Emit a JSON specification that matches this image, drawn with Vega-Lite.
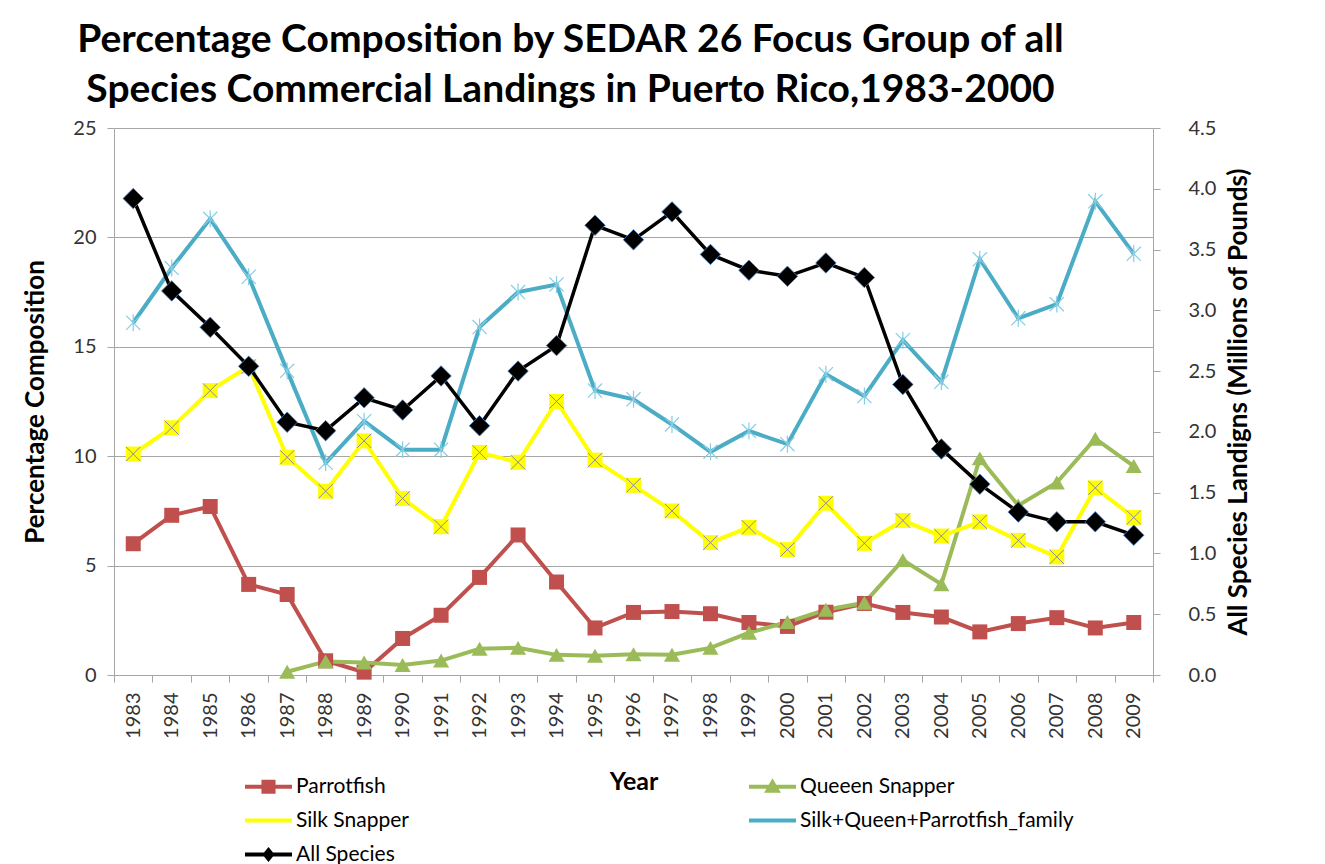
{
  "$schema": "https://vega.github.io/schema/vega-lite/v6.json",
  "autosize": {"type": "none"},
  "width": 1039,
  "height": 547,
  "padding": {"left": 114, "top": 128, "right": 172, "bottom": 189},
  "background": "white",
  "title": {
    "text": ["Percentage Composition by SEDAR 26 Focus Group of all", "Species Commercial Landings in Puerto Rico,1983-2000"],
    "font": "Lato", "fontSize": 39, "fontWeight": "bold", "color": "black",
    "anchor": "middle", "frame": "group", "dx": -63, "offset": 8, "lineHeight": 50
  },
  "config": {
    "view": {"stroke": null},
    "axis": {"labelFont": "Lato", "titleFont": "Lato", "labelColor": "#333333", "titleColor": "black", "domainColor": "#a6a6a6", "tickColor": "#a6a6a6", "gridColor": "#a6a6a6"}
  },
  "datasets": {
    "d": [
      {"year": "1983", "series": "Parrotfish", "value": 6.0},
      {"year": "1984", "series": "Parrotfish", "value": 7.3},
      {"year": "1985", "series": "Parrotfish", "value": 7.7},
      {"year": "1986", "series": "Parrotfish", "value": 4.14},
      {"year": "1987", "series": "Parrotfish", "value": 3.68},
      {"year": "1988", "series": "Parrotfish", "value": 0.65},
      {"year": "1989", "series": "Parrotfish", "value": 0.13},
      {"year": "1990", "series": "Parrotfish", "value": 1.67},
      {"year": "1991", "series": "Parrotfish", "value": 2.73},
      {"year": "1992", "series": "Parrotfish", "value": 4.46},
      {"year": "1993", "series": "Parrotfish", "value": 6.4},
      {"year": "1994", "series": "Parrotfish", "value": 4.25},
      {"year": "1995", "series": "Parrotfish", "value": 2.15},
      {"year": "1996", "series": "Parrotfish", "value": 2.86},
      {"year": "1997", "series": "Parrotfish", "value": 2.9},
      {"year": "1998", "series": "Parrotfish", "value": 2.8},
      {"year": "1999", "series": "Parrotfish", "value": 2.4},
      {"year": "2000", "series": "Parrotfish", "value": 2.22},
      {"year": "2001", "series": "Parrotfish", "value": 2.87},
      {"year": "2002", "series": "Parrotfish", "value": 3.27},
      {"year": "2003", "series": "Parrotfish", "value": 2.86},
      {"year": "2004", "series": "Parrotfish", "value": 2.65},
      {"year": "2005", "series": "Parrotfish", "value": 1.97},
      {"year": "2006", "series": "Parrotfish", "value": 2.35},
      {"year": "2007", "series": "Parrotfish", "value": 2.62},
      {"year": "2008", "series": "Parrotfish", "value": 2.15},
      {"year": "2009", "series": "Parrotfish", "value": 2.4},
      {"year": "1987", "series": "Queeen Snapper", "value": 0.15},
      {"year": "1988", "series": "Queeen Snapper", "value": 0.62},
      {"year": "1989", "series": "Queeen Snapper", "value": 0.57},
      {"year": "1990", "series": "Queeen Snapper", "value": 0.46},
      {"year": "1991", "series": "Queeen Snapper", "value": 0.66},
      {"year": "1992", "series": "Queeen Snapper", "value": 1.2},
      {"year": "1993", "series": "Queeen Snapper", "value": 1.24},
      {"year": "1994", "series": "Queeen Snapper", "value": 0.92},
      {"year": "1995", "series": "Queeen Snapper", "value": 0.88},
      {"year": "1996", "series": "Queeen Snapper", "value": 0.95},
      {"year": "1997", "series": "Queeen Snapper", "value": 0.93},
      {"year": "1998", "series": "Queeen Snapper", "value": 1.24},
      {"year": "1999", "series": "Queeen Snapper", "value": 1.93},
      {"year": "2000", "series": "Queeen Snapper", "value": 2.42},
      {"year": "2001", "series": "Queeen Snapper", "value": 2.98},
      {"year": "2002", "series": "Queeen Snapper", "value": 3.3},
      {"year": "2003", "series": "Queeen Snapper", "value": 5.25},
      {"year": "2004", "series": "Queeen Snapper", "value": 4.15},
      {"year": "2005", "series": "Queeen Snapper", "value": 9.9},
      {"year": "2006", "series": "Queeen Snapper", "value": 7.75},
      {"year": "2007", "series": "Queeen Snapper", "value": 8.8},
      {"year": "2008", "series": "Queeen Snapper", "value": 10.8},
      {"year": "2009", "series": "Queeen Snapper", "value": 9.55},
      {"year": "1983", "series": "Silk Snapper", "value": 10.1},
      {"year": "1984", "series": "Silk Snapper", "value": 11.3},
      {"year": "1985", "series": "Silk Snapper", "value": 13.0},
      {"year": "1986", "series": "Silk Snapper", "value": 14.1},
      {"year": "1987", "series": "Silk Snapper", "value": 9.95},
      {"year": "1988", "series": "Silk Snapper", "value": 8.4},
      {"year": "1989", "series": "Silk Snapper", "value": 10.7},
      {"year": "1990", "series": "Silk Snapper", "value": 8.07},
      {"year": "1991", "series": "Silk Snapper", "value": 6.78},
      {"year": "1992", "series": "Silk Snapper", "value": 10.17},
      {"year": "1993", "series": "Silk Snapper", "value": 9.72},
      {"year": "1994", "series": "Silk Snapper", "value": 12.5},
      {"year": "1995", "series": "Silk Snapper", "value": 9.82},
      {"year": "1996", "series": "Silk Snapper", "value": 8.67},
      {"year": "1997", "series": "Silk Snapper", "value": 7.5},
      {"year": "1998", "series": "Silk Snapper", "value": 6.05},
      {"year": "1999", "series": "Silk Snapper", "value": 6.75},
      {"year": "2000", "series": "Silk Snapper", "value": 5.73},
      {"year": "2001", "series": "Silk Snapper", "value": 7.85},
      {"year": "2002", "series": "Silk Snapper", "value": 6.02},
      {"year": "2003", "series": "Silk Snapper", "value": 7.06},
      {"year": "2004", "series": "Silk Snapper", "value": 6.35},
      {"year": "2005", "series": "Silk Snapper", "value": 7.0},
      {"year": "2006", "series": "Silk Snapper", "value": 6.15},
      {"year": "2007", "series": "Silk Snapper", "value": 5.4},
      {"year": "2008", "series": "Silk Snapper", "value": 8.55},
      {"year": "2009", "series": "Silk Snapper", "value": 7.2},
      {"year": "1983", "series": "Silk+Queen+Parrotfish_family", "value": 16.1},
      {"year": "1984", "series": "Silk+Queen+Parrotfish_family", "value": 18.6},
      {"year": "1985", "series": "Silk+Queen+Parrotfish_family", "value": 20.85},
      {"year": "1986", "series": "Silk+Queen+Parrotfish_family", "value": 18.2},
      {"year": "1987", "series": "Silk+Queen+Parrotfish_family", "value": 13.9},
      {"year": "1988", "series": "Silk+Queen+Parrotfish_family", "value": 9.7},
      {"year": "1989", "series": "Silk+Queen+Parrotfish_family", "value": 11.6},
      {"year": "1990", "series": "Silk+Queen+Parrotfish_family", "value": 10.3},
      {"year": "1991", "series": "Silk+Queen+Parrotfish_family", "value": 10.3},
      {"year": "1992", "series": "Silk+Queen+Parrotfish_family", "value": 15.9},
      {"year": "1993", "series": "Silk+Queen+Parrotfish_family", "value": 17.5},
      {"year": "1994", "series": "Silk+Queen+Parrotfish_family", "value": 17.85},
      {"year": "1995", "series": "Silk+Queen+Parrotfish_family", "value": 13.0},
      {"year": "1996", "series": "Silk+Queen+Parrotfish_family", "value": 12.6},
      {"year": "1997", "series": "Silk+Queen+Parrotfish_family", "value": 11.45},
      {"year": "1998", "series": "Silk+Queen+Parrotfish_family", "value": 10.2},
      {"year": "1999", "series": "Silk+Queen+Parrotfish_family", "value": 11.15},
      {"year": "2000", "series": "Silk+Queen+Parrotfish_family", "value": 10.55},
      {"year": "2001", "series": "Silk+Queen+Parrotfish_family", "value": 13.75},
      {"year": "2002", "series": "Silk+Queen+Parrotfish_family", "value": 12.75},
      {"year": "2003", "series": "Silk+Queen+Parrotfish_family", "value": 15.3},
      {"year": "2004", "series": "Silk+Queen+Parrotfish_family", "value": 13.4},
      {"year": "2005", "series": "Silk+Queen+Parrotfish_family", "value": 19.0},
      {"year": "2006", "series": "Silk+Queen+Parrotfish_family", "value": 16.3},
      {"year": "2007", "series": "Silk+Queen+Parrotfish_family", "value": 16.95},
      {"year": "2008", "series": "Silk+Queen+Parrotfish_family", "value": 21.65},
      {"year": "2009", "series": "Silk+Queen+Parrotfish_family", "value": 19.25},
      {"year": "1983", "series": "All Species", "value": 3.92},
      {"year": "1984", "series": "All Species", "value": 3.16},
      {"year": "1985", "series": "All Species", "value": 2.86},
      {"year": "1986", "series": "All Species", "value": 2.54},
      {"year": "1987", "series": "All Species", "value": 2.08},
      {"year": "1988", "series": "All Species", "value": 2.01},
      {"year": "1989", "series": "All Species", "value": 2.28},
      {"year": "1990", "series": "All Species", "value": 2.18},
      {"year": "1991", "series": "All Species", "value": 2.46},
      {"year": "1992", "series": "All Species", "value": 2.05},
      {"year": "1993", "series": "All Species", "value": 2.5},
      {"year": "1994", "series": "All Species", "value": 2.71},
      {"year": "1995", "series": "All Species", "value": 3.7},
      {"year": "1996", "series": "All Species", "value": 3.58},
      {"year": "1997", "series": "All Species", "value": 3.81},
      {"year": "1998", "series": "All Species", "value": 3.46},
      {"year": "1999", "series": "All Species", "value": 3.33},
      {"year": "2000", "series": "All Species", "value": 3.28},
      {"year": "2001", "series": "All Species", "value": 3.39},
      {"year": "2002", "series": "All Species", "value": 3.27},
      {"year": "2003", "series": "All Species", "value": 2.39},
      {"year": "2004", "series": "All Species", "value": 1.86},
      {"year": "2005", "series": "All Species", "value": 1.57},
      {"year": "2006", "series": "All Species", "value": 1.34},
      {"year": "2007", "series": "All Species", "value": 1.26},
      {"year": "2008", "series": "All Species", "value": 1.26},
      {"year": "2009", "series": "All Species", "value": 1.15}
    ]
  },
  "data": {"name": "d"},
  "encoding": {
    "x": {
      "field": "year", "type": "ordinal",
      "scale": {"type": "band", "paddingInner": 0, "paddingOuter": 0},
      "axis": {
        "title": "Year", "titleFontSize": 25, "titleFontWeight": "bold", "titlePadding": 31,
        "labelAngle": -90, "labelFontSize": 20, "labelPadding": 10,
        "tickBand": "extent", "tickSize": 7, "grid": false
      }
    }
  },
  "layer": [
    {
      "encoding": {
        "y": {
          "field": "value", "type": "quantitative",
          "scale": {"domain": [0, 25], "nice": false, "zero": true},
          "axis": {
            "title": "Percentage Composition", "titleFontSize": 26, "titleFontWeight": "bold", "titlePadding": 24,
            "values": [0, 5, 10, 15, 20, 25], "grid": true, "tickSize": 7, "labelFontSize": 20, "labelPadding": 11
          }
        }
      },
      "layer": [
        {
          "transform": [{"filter": "datum.series !== 'All Species'"}],
          "mark": {"type": "line", "strokeWidth": 4},
          "encoding": {
            "color": {
              "field": "series", "type": "nominal",
              "scale": {
                "domain": ["Parrotfish", "Silk Snapper", "All Species", "Queeen Snapper", "Silk+Queen+Parrotfish_family"],
                "range": ["#C0504D", "#FFFF00", "#000000", "#9BBB59", "#4BACC6"]
              },
              "legend": {
                "orient": "none", "legendX": 131, "legendY": 635, "columns": 2, "columnPadding": 340, "rowPadding": 0,
                "title": null, "symbolSize": 2209, "labelFont": "Lato", "labelFontSize": 21, "labelColor": "black", "labelOffset": 4, "labelLimit": 500,
                "symbolStrokeWidth": 0,
                "encode": {
                  "symbols": {
                    "update": {
                      "shape": {"signal": "datum.value === 'Parrotfish' ? 'M-1,-0.085H1V0.085H-1Z M-0.3,-0.3H0.3V0.3H-0.3Z' : datum.value === 'Queeen Snapper' ? 'M-1,-0.085H1V0.085H-1Z M0,-0.36L0.36,0.26H-0.36Z' : datum.value === 'All Species' ? 'M-1,-0.085H1V0.085H-1Z M0,-0.32L0.26,0L0,0.32L-0.26,0Z' : 'M-1,-0.085H1V0.085H-1Z'"},
                      "fill": {"scale": "color", "field": "value"},
                      "stroke": {"value": "transparent"},
                      "strokeWidth": {"value": 0},
                      "opacity": {"value": 1}
                    }
                  }
                }
              }
            }
          }
        },
        {
          "transform": [{"filter": "datum.series === 'Parrotfish'"}],
          "mark": {"type": "point", "shape": "square", "filled": true, "size": 225, "color": "#C0504D", "opacity": 1}
        },
        {
          "transform": [{"filter": "datum.series === 'Queeen Snapper'"}],
          "mark": {"type": "point", "shape": "triangle-up", "filled": true, "size": 260, "color": "#9BBB59", "opacity": 1}
        },
        {
          "transform": [{"filter": "datum.series === 'Silk Snapper'"}],
          "mark": {"type": "point", "shape": "square", "filled": true, "size": 225, "color": "#FFFF00", "opacity": 1}
        },
        {
          "transform": [{"filter": "datum.series === 'Silk Snapper'"}],
          "mark": {"type": "point", "shape": "M-1,-1L1,1M-1,1L1,-1", "filled": false, "size": 200, "stroke": "#8E8A9E", "strokeWidth": 1, "opacity": 1}
        },
        {
          "transform": [{"filter": "datum.series === 'Silk+Queen+Parrotfish_family'"}],
          "mark": {"type": "point", "shape": "M-1,-1L1,1M-1,1L1,-1M0,-1.2L0,1.2", "filled": false, "size": 200, "stroke": "#86CDE3", "strokeWidth": 1.2, "opacity": 1}
        }
      ]
    },
    {
      "transform": [{"filter": "datum.series === 'All Species'"}],
      "encoding": {
        "y": {
          "field": "value", "type": "quantitative",
          "scale": {"domain": [0, 4.5], "nice": false, "zero": true},
          "axis": {
            "orient": "right", "title": "All Species Landigns  (Millions of Pounds)", "titleFontSize": 26, "titleFontWeight": "bold", "titlePadding": 36, "titleAngle": 270,
            "values": [0, 0.5, 1, 1.5, 2, 2.5, 3, 3.5, 4, 4.5], "format": ".1f", "grid": false, "tickSize": 7, "labelFontSize": 20, "labelPadding": 28
          }
        }
      },
      "layer": [
        {
          "mark": {"type": "line", "strokeWidth": 3.5},
          "encoding": {"color": {"field": "series", "type": "nominal"}}
        },
        {
          "mark": {"type": "point", "shape": "diamond", "filled": true, "size": 420, "color": "#000000", "stroke": "#4F81BD", "strokeWidth": 0.8, "opacity": 1}
        }
      ]
    }
  ],
  "resolve": {"scale": {"y": "independent"}}
}
